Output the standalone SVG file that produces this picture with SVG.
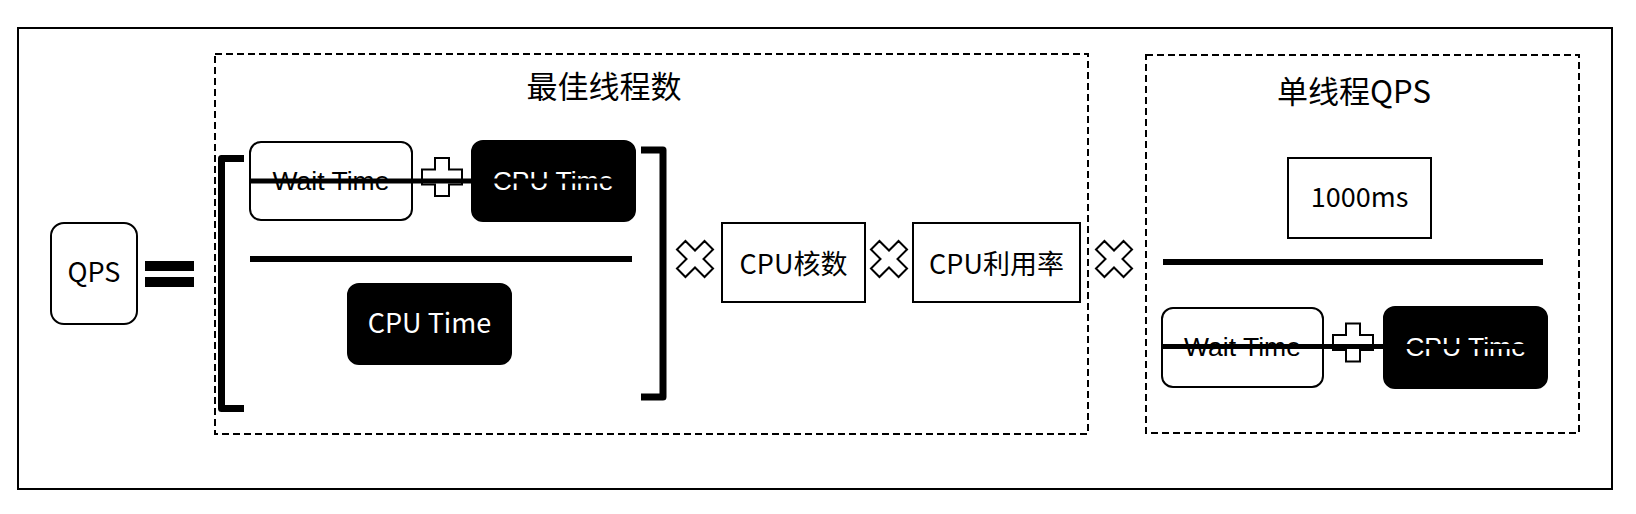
<svg xmlns="http://www.w3.org/2000/svg" width="1636" height="514" viewBox="0 0 1636 514">
<style>
.box{fill:#fff;stroke:#000;stroke-width:2}
.blk{fill:#000;stroke:#000;stroke-width:2}
.dash{fill:none;stroke:#000;stroke-width:2;stroke-dasharray:7 4}
.t{font-family:"Noto Sans CJK SC","Noto Sans",sans-serif;font-size:27px;text-anchor:middle;fill:#000}
.a{font-family:"Liberation Sans",Arial,sans-serif;font-size:26.5px;text-anchor:middle}
.w{fill:#fff}
.title{font-family:"Noto Sans CJK SC",sans-serif;font-size:31px;text-anchor:middle;fill:#000}
.bar{fill:none;stroke:#000;stroke-width:6}
.brk{fill:none;stroke:#000;stroke-width:7;stroke-linejoin:round}
.op{fill:#fff;stroke:#000;stroke-width:2}
</style>
<defs>
<path id="plus" d="M-7,-19H7V-7.5H20V7.5H7V19H-7V7.5H-20V-7.5H-7Z"/>
<path id="cross" d="M-6,-19.5H6V-6H19.5V6H6V19.5H-6V6H-19.5V-6H-6Z" transform="rotate(45)"/>
</defs>
<rect x="18" y="28" width="1594" height="461" fill="#fff" stroke="#000" stroke-width="2"/>
<g id="group-best-threads">
<rect class="dash" x="215" y="54" width="873" height="380"/>
<text class="title" x="604" y="98">最佳线程数</text>
</g>
<g id="group-single-qps">
<rect class="dash" x="1146" y="55" width="433" height="378"/>
<text class="title" x="1354" y="103">单线程QPS</text>
</g>
<g id="node-qps">
<rect class="box" x="51" y="223" width="86" height="101" rx="13"/>
<text class="t" x="94" y="282">QPS</text>
</g>
<g id="node-wait-1">
<rect class="box" x="250" y="142" width="162" height="78" rx="11"/>
<text class="a" x="331" y="190">Wait Time</text>
</g>
<g id="node-cpu-1">
<rect class="blk" x="472" y="141" width="163" height="80" rx="11"/>
<text class="a w" x="553" y="190">CPU Time</text>
</g>
<g id="node-cpu-2">
<rect class="blk" x="348" y="284" width="163" height="80" rx="11"/>
<text class="t w" x="429.5" y="333">CPU Time</text>
</g>
<g id="node-cores">
<rect class="box" x="722" y="223" width="143" height="79"/>
<text class="t" x="793.5" y="274">CPU核数</text>
</g>
<g id="node-util">
<rect class="box" x="913" y="223" width="167" height="79"/>
<text class="t" x="996.5" y="274">CPU利用率</text>
</g>
<g id="node-1000ms">
<rect class="box" x="1288" y="158" width="143" height="80"/>
<text class="t" x="1359.5" y="207">1000ms</text>
</g>
<g id="node-wait-2">
<rect class="box" x="1162" y="308" width="161" height="79" rx="11"/>
<text class="a" x="1242.5" y="356">Wait Time</text>
</g>
<g id="node-cpu-3">
<rect class="blk" x="1384" y="307" width="163" height="81" rx="11"/>
<text class="a w" x="1465.5" y="356">CPU Time</text>
</g>
<g id="connectors">
<rect x="145" y="261" width="49" height="10"/>
<rect x="145" y="277" width="49" height="10"/>
<path class="brk" d="M244,158.5H221.5V408.5H244"/>
<path class="brk" d="M641,150H663V397H641"/>
<line class="bar" x1="250" y1="259" x2="632" y2="259"/>
<line class="bar" x1="1163" y1="262" x2="1543" y2="262"/>
<use href="#plus" class="op" transform="translate(442,177)"/>
<use href="#plus" class="op" transform="translate(1353,342.5)"/>
<line x1="251" y1="181" x2="615" y2="181" stroke="#000" stroke-width="5"/>
<line x1="1162" y1="346.5" x2="1527" y2="346.5" stroke="#000" stroke-width="5"/>
<use href="#cross" class="op" transform="translate(695,259)"/>
<use href="#cross" class="op" transform="translate(889,259)"/>
<use href="#cross" class="op" transform="translate(1114,259)"/>
</g>
</svg>
